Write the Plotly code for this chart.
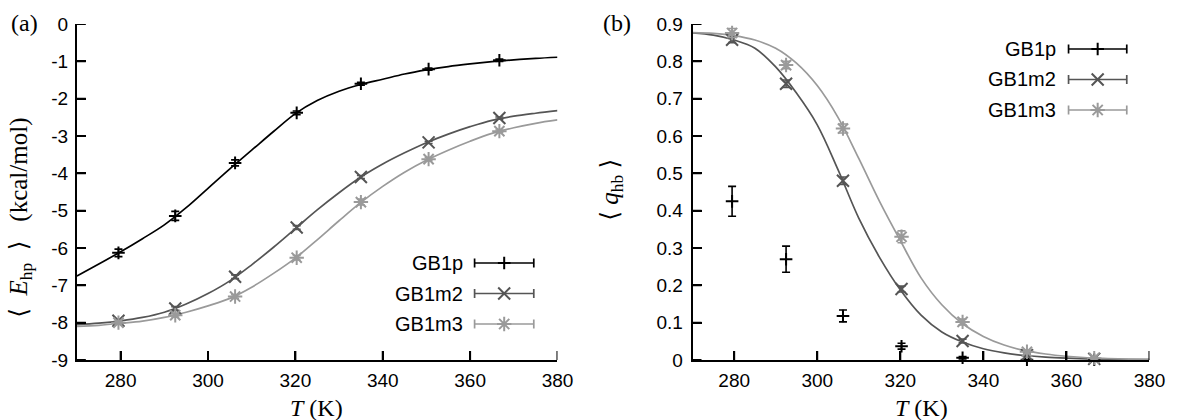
import plotly.graph_objects as go

# ---------------- data ----------------
T = [279.5, 292.5, 306.2, 320.3, 335.0, 350.5, 366.7]

E_GB1p = [-6.13, -5.14, -3.72, -2.38, -1.60, -1.21, -0.97]
E_GB1p_err = [0.10, 0.12, 0.08, 0.05, 0.04, 0.03, 0.03]
E_GB1m2 = [-7.95, -7.62, -6.77, -5.45, -4.10, -3.17, -2.52]
E_GB1m2_err = [0.04, 0.05, 0.05, 0.05, 0.04, 0.03, 0.03]
E_GB1m3 = [-8.00, -7.80, -7.30, -6.26, -4.77, -3.62, -2.87]
E_GB1m3_err = [0.04, 0.05, 0.05, 0.06, 0.08, 0.04, 0.03]

q_GB1p = [0.425, 0.270, 0.118, 0.037, 0.006, 0.001, 0.0005]
q_GB1p_err = [0.040, 0.035, 0.016, 0.008, 0.003, 0.002, 0.001]
q_GB1m2 = [0.858, 0.740, 0.480, 0.190, 0.051, 0.013, 0.003]
q_GB1m2_err = [0.008, 0.010, 0.010, 0.008, 0.005, 0.003, 0.002]
q_GB1m3 = [0.876, 0.790, 0.620, 0.330, 0.102, 0.022, 0.005]
q_GB1m3_err = [0.012, 0.010, 0.012, 0.016, 0.008, 0.004, 0.002]

# fitted curves
T_fit = [270, 275, 280, 285, 290, 295, 300, 305, 310, 315, 320, 325,
         330, 335, 340, 345, 350, 355, 360, 365, 370, 375, 380]
E_fit_GB1p = [-6.75, -6.43, -6.10, -5.75, -5.38, -4.92, -4.40, -3.88, -3.38, -2.88, -2.40, -2.05,
              -1.80, -1.62, -1.48, -1.34, -1.23, -1.14, -1.07, -1.01, -0.96, -0.92, -0.89]
E_fit_GB1m2 = [-8.05, -8.01, -7.95, -7.86, -7.72, -7.50, -7.22, -6.88, -6.45, -5.98, -5.48, -4.98,
               -4.52, -4.10, -3.75, -3.45, -3.18, -2.95, -2.75, -2.58, -2.47, -2.39, -2.32]
E_fit_GB1m3 = [-8.10, -8.07, -8.02, -7.96, -7.86, -7.72, -7.55, -7.35, -7.05, -6.68, -6.27, -5.78,
               -5.27, -4.78, -4.35, -3.97, -3.65, -3.38, -3.14, -2.93, -2.78, -2.66, -2.57]
q_fit_GB1m2 = [0.876, 0.870, 0.857, 0.835, 0.785, 0.715, 0.630, 0.510, 0.380, 0.275, 0.188, 0.120,
               0.075, 0.048, 0.030, 0.019, 0.012, 0.0075, 0.0048, 0.003, 0.002, 0.0012, 0.0008]
q_fit_GB1m3 = [0.877, 0.875, 0.869, 0.857, 0.835, 0.795, 0.735, 0.650, 0.540, 0.425, 0.320, 0.220,
               0.148, 0.097, 0.063, 0.040, 0.025, 0.016, 0.010, 0.006, 0.004, 0.0025, 0.0015]

series = ["GB1p", "GB1m2", "GB1m3"]
colors = ["#000000", "#555555", "#9a9a9a"]
symbols = ["cross-thin-open", "x-thin-open", "asterisk-open"]
msizes = [9, 12, 12]

x_ticks = [280, 300, 320, 340, 360, 380]
yE_ticks = [0, -1, -2, -3, -4, -5, -6, -7, -8, -9]
yE_text = ["0", "-1", "-2", "-3", "-4", "-5", "-6", "-7", "-8", "-9"]
yq_ticks = [0, 0.1, 0.2, 0.3, 0.4, 0.5, 0.6, 0.7, 0.8, 0.9]
yq_text = ["0", "0.1", "0.2", "0.3", "0.4", "0.5", "0.6", "0.7", "0.8", "0.9"]

# ---------------- layout geometry (pixels) ----------------
W, H = 1200, 420
TOP, BOT = 24, 360
LX0, LX1 = 78, 565      # left panel x pixel extent
RX0, RX1 = 702, 1165    # right panel x pixel extent
XR = [270, 380]
YL = [-9, 0]
YR = [0, 0.9]
TICKLEN = 9


def px2paper(px, py):
    return px / W, (BOT - py) / (BOT - TOP)


def px2data(px, py, x0, x1, yr):
    xd = XR[0] + (px - x0) / (x1 - x0) * (XR[1] - XR[0])
    yd = yr[1] - (py - TOP) / (BOT - TOP) * (yr[1] - yr[0])
    return xd, yd


fig = go.Figure()
LW = 1.7

E_data = [(E_GB1p, E_GB1p_err), (E_GB1m2, E_GB1m2_err), (E_GB1m3, E_GB1m3_err)]
E_fits = [E_fit_GB1p, E_fit_GB1m2, E_fit_GB1m3]
for i in range(3):
    fig.add_trace(go.Scatter(x=T_fit, y=E_fits[i], mode="lines", line=dict(color=colors[i], width=LW, shape="spline"),
                             xaxis="x", yaxis="y", showlegend=False, hoverinfo="skip"))
for i in range(3):
    fig.add_trace(go.Scatter(x=T, y=E_data[i][0], mode="markers",
                             marker=dict(symbol=symbols[i], size=msizes[i], color=colors[i], line=dict(color=colors[i], width=2)),
                             error_y=dict(type="data", array=E_data[i][1], width=4, thickness=1.6, color=colors[i]),
                             xaxis="x", yaxis="y", showlegend=False))

q_data = [(q_GB1p, q_GB1p_err), (q_GB1m2, q_GB1m2_err), (q_GB1m3, q_GB1m3_err)]
q_fits = [None, q_fit_GB1m2, q_fit_GB1m3]
for i in range(3):
    if q_fits[i] is not None:
        fig.add_trace(go.Scatter(x=T_fit, y=q_fits[i], mode="lines", line=dict(color=colors[i], width=LW, shape="spline"),
                                 xaxis="x2", yaxis="y2", showlegend=False, hoverinfo="skip"))
for i in range(3):
    fig.add_trace(go.Scatter(x=T, y=q_data[i][0], mode="markers",
                             marker=dict(symbol=symbols[i], size=msizes[i], color=colors[i], line=dict(color=colors[i], width=2)),
                             error_y=dict(type="data", array=q_data[i][1], width=4, thickness=1.6, color=colors[i]),
                             xaxis="x2", yaxis="y2", showlegend=False, cliponaxis=False))

# gnuplot-style legends (text, then sample with error-bar caps and marker)
legend_pos = [  # text right edge, sample start, sample end, first row y, panel geometry, axes
    (471, 481, 541, 263, LX0, LX1, YL, "x", "y"),
    (1072, 1083, 1142, 49, RX0, RX1, YR, "x2", "y2"),
]
ROW = 30.5
annotations = []
for (tx, s0, s1, y0, x0, x1, yr, xa, ya) in legend_pos:
    for i, name in enumerate(series):
        yy = y0 + i * ROW
        pts = [(s0, yy - 4.5), (s0, yy + 4.5), None, (s0, yy), (s1, yy), None, (s1, yy - 4.5), (s1, yy + 4.5)]
        xs, ys = [], []
        for p in pts:
            if p is None:
                xs.append(None)
                ys.append(None)
            else:
                a, b = px2data(p[0], p[1], x0, x1, yr)
                xs.append(a)
                ys.append(b)
        fig.add_trace(go.Scatter(x=xs, y=ys, mode="lines", line=dict(color=colors[i], width=LW),
                                 xaxis=xa, yaxis=ya, showlegend=False, hoverinfo="skip", cliponaxis=False))
        mx, my = px2data((s0 + s1) / 2, yy, x0, x1, yr)
        fig.add_trace(go.Scatter(x=[mx], y=[my], mode="markers",
                                 marker=dict(symbol=symbols[i], size=msizes[i], color=colors[i], line=dict(color=colors[i], width=2)),
                                 xaxis=xa, yaxis=ya, showlegend=False, hoverinfo="skip", cliponaxis=False))
        ax_, ay_ = px2paper(tx, yy)
        annotations.append(dict(x=ax_, y=ay_, xref="paper", yref="paper", text=name, showarrow=False,
                                xanchor="right", yanchor="middle",
                                font=dict(family="Liberation Sans, Arial, sans-serif", size=20, color="black")))

# inward tick marks, drawn last as short segments at the tick values
for xa, ya, x0, x1, yr, ytv in [("x", "y", LX0, LX1, YL, yE_ticks), ("x2", "y2", RX0, RX1, YR, yq_ticks)]:
    dy = TICKLEN / (BOT - TOP) * (yr[1] - yr[0])
    dx = TICKLEN / (x1 - x0) * (XR[1] - XR[0])
    xs, ys = [], []
    for tv in x_ticks:
        xs += [tv, tv, None]
        ys += [yr[0], yr[0] + dy, None]
    for tv in ytv:
        xs += [XR[0], XR[0] + dx, None]
        ys += [tv, tv, None]
    fig.add_trace(go.Scatter(x=xs, y=ys, mode="lines", line=dict(color="black", width=2),
                             xaxis=xa, yaxis=ya, showlegend=False, hoverinfo="skip", cliponaxis=False))

serif = "Liberation Serif, DejaVu Serif, Times New Roman, serif"
NB = "\u00a0"


def ann(px, py, text, angle=0, size=24):
    ax_, ay_ = px2paper(px, py)
    return dict(x=ax_, y=ay_, xref="paper", yref="paper", text=text, textangle=angle, showarrow=False,
                xanchor="center", yanchor="middle", font=dict(family=serif, size=size, color="black"))


annotations += [
    ann(25, 23, "(a)"),
    ann(625, 23, "(b)"),
    ann(321, 408, "<i>T</i> (K)"),
    ann(934, 408, "<i>T</i> (K)"),
    ann(21, 218, "⟨" + NB * 2 + "<i>E</i><sub>hp</sub>" + NB * 2 + "⟩" + NB * 3 + "(kcal/mol)", angle=-90, size=25),
    ann(619, 190, "⟨" + NB + "<i>q</i><sub>hb</sub>" + NB + "⟩", angle=-90, size=25),
]

tickfont = dict(family="Liberation Sans, Arial, sans-serif", size=19, color="black")
axis_common = dict(showline=True, linecolor="black", linewidth=2, showgrid=False, zeroline=False,
                   ticks="inside", ticklen=TICKLEN, tickwidth=1.6, tickcolor="black",
                   tickfont=tickfont, mirror=False, layer="above traces")

fig.update_layout(
    width=W, height=H,
    margin=dict(l=0, r=0, t=TOP, b=H - BOT, pad=0),
    paper_bgcolor="white", plot_bgcolor="white",
    showlegend=False,
    xaxis=dict(domain=[LX0 / W, LX1 / W], range=XR, tickvals=x_ticks, anchor="y", ticklabelstandoff=2, **axis_common),
    yaxis=dict(domain=[0, 1], range=YL, tickvals=yE_ticks, ticktext=yE_text, anchor="x", ticklabelstandoff=3, **axis_common),
    xaxis2=dict(domain=[RX0 / W, RX1 / W], range=XR, tickvals=x_ticks, anchor="y2", ticklabelstandoff=2, **axis_common),
    yaxis2=dict(domain=[0, 1], range=YR, tickvals=yq_ticks, ticktext=yq_text, anchor="x2", ticklabelstandoff=4, **axis_common),
    annotations=annotations,
)

fig.write_html("out.html", config={"displayModeBar": False},
               post_script="document.body.style.margin='0';document.body.style.overflow='hidden';")
